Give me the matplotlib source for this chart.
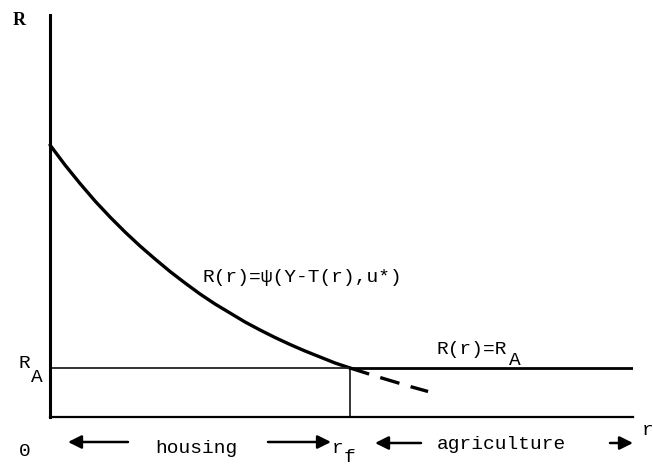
import matplotlib
matplotlib.use("Agg")
import matplotlib.pyplot as plt
from matplotlib.patches import FancyArrowPatch

# ---- data (schematic units) ----
r_curve = [0.0, 0.05, 0.1, 0.15, 0.2, 0.25, 0.3, 0.35, 0.4, 0.45, 0.5,
           0.55, 0.6, 0.65, 0.7, 0.75, 0.8, 0.85, 0.9, 0.95, 1.0]
R_curve = [2.72, 2.52, 2.335, 2.16, 2.0, 1.85, 1.71, 1.58, 1.455, 1.34, 1.23,
           1.13, 1.04, 0.95, 0.87, 0.795, 0.725, 0.66, 0.6, 0.54, 0.49]
r_dash = [1.0, 1.1, 1.2, 1.26]
R_dash = [0.49, 0.395, 0.305, 0.255]
R_A = 0.49
r_f = 1.0
r_max = 1.943
R_max = 4.02

W, H = 653, 467
fig = plt.figure(figsize=(W / 100, H / 100), dpi=100)
L, B, Rr, T = 50, 417, 633, 15
ax = fig.add_axes([L / W, 1 - B / H, (Rr - L) / W, (B - T) / H])
ax.set_xlim(0, r_max)
ax.set_ylim(0, R_max)
for s in ["top", "right"]:
    ax.spines[s].set_visible(False)
ax.spines["left"].set_linewidth(2.2)
ax.spines["bottom"].set_linewidth(1.6)
ax.set_xticks([])
ax.set_yticks([])

# bid-rent curve
ax.plot(r_curve, R_curve, color="black", lw=2.4, solid_capstyle="round",
        solid_joinstyle="round", clip_on=False)
ax.plot(r_dash, R_dash, color="black", lw=2.4, dashes=(6, 3.5))
# agricultural rent line
ax.plot([0, r_f], [R_A, R_A], color="#222222", lw=1.3)
ax.plot([r_f, r_max], [R_A, R_A], color="black", lw=2.0)
# vertical at r_f
ax.plot([r_f, r_f], [0, R_A], color="black", lw=1.1)

mono = "Liberation Mono"


def px(x, y):
    return (x / W, 1 - y / H)


def ftext(x, y, s, size=14, **kw):
    fig.text(*px(x, y), s, fontsize=size, family=mono, va="baseline",
             ha="left", **kw)


fig.text(*px(13, 25), "R", fontsize=13, family="Liberation Serif",
         weight="bold", ha="left", va="baseline")
ftext(19, 456, "0")
ftext(19, 368, "R")
ftext(31, 382, "A")
ftext(202, 282, "R(r)=\u03c8(Y-T(r),u*)")
ftext(437, 354, "R(r)=R")
ftext(509, 365, "A")

ftext(155, 453, "housing")
ftext(437, 449, "agriculture")
ftext(332, 453, "r")
ftext(344, 462, "f")
ftext(642, 435, "r")


def arrow(x0, x1, y):
    fig.add_artist(FancyArrowPatch(
        px(x0, y), px(x1, y), transform=fig.transFigure,
        arrowstyle="-|>,head_length=5,head_width=2.5", lw=1.8,
        color="black", shrinkA=0, shrinkB=0, mutation_scale=1.6))


arrow(128, 68, 442)
arrow(268, 331, 442)
arrow(421, 375, 443)
arrow(610, 633, 443)

fig.savefig("out.png", dpi=100, facecolor="white")
